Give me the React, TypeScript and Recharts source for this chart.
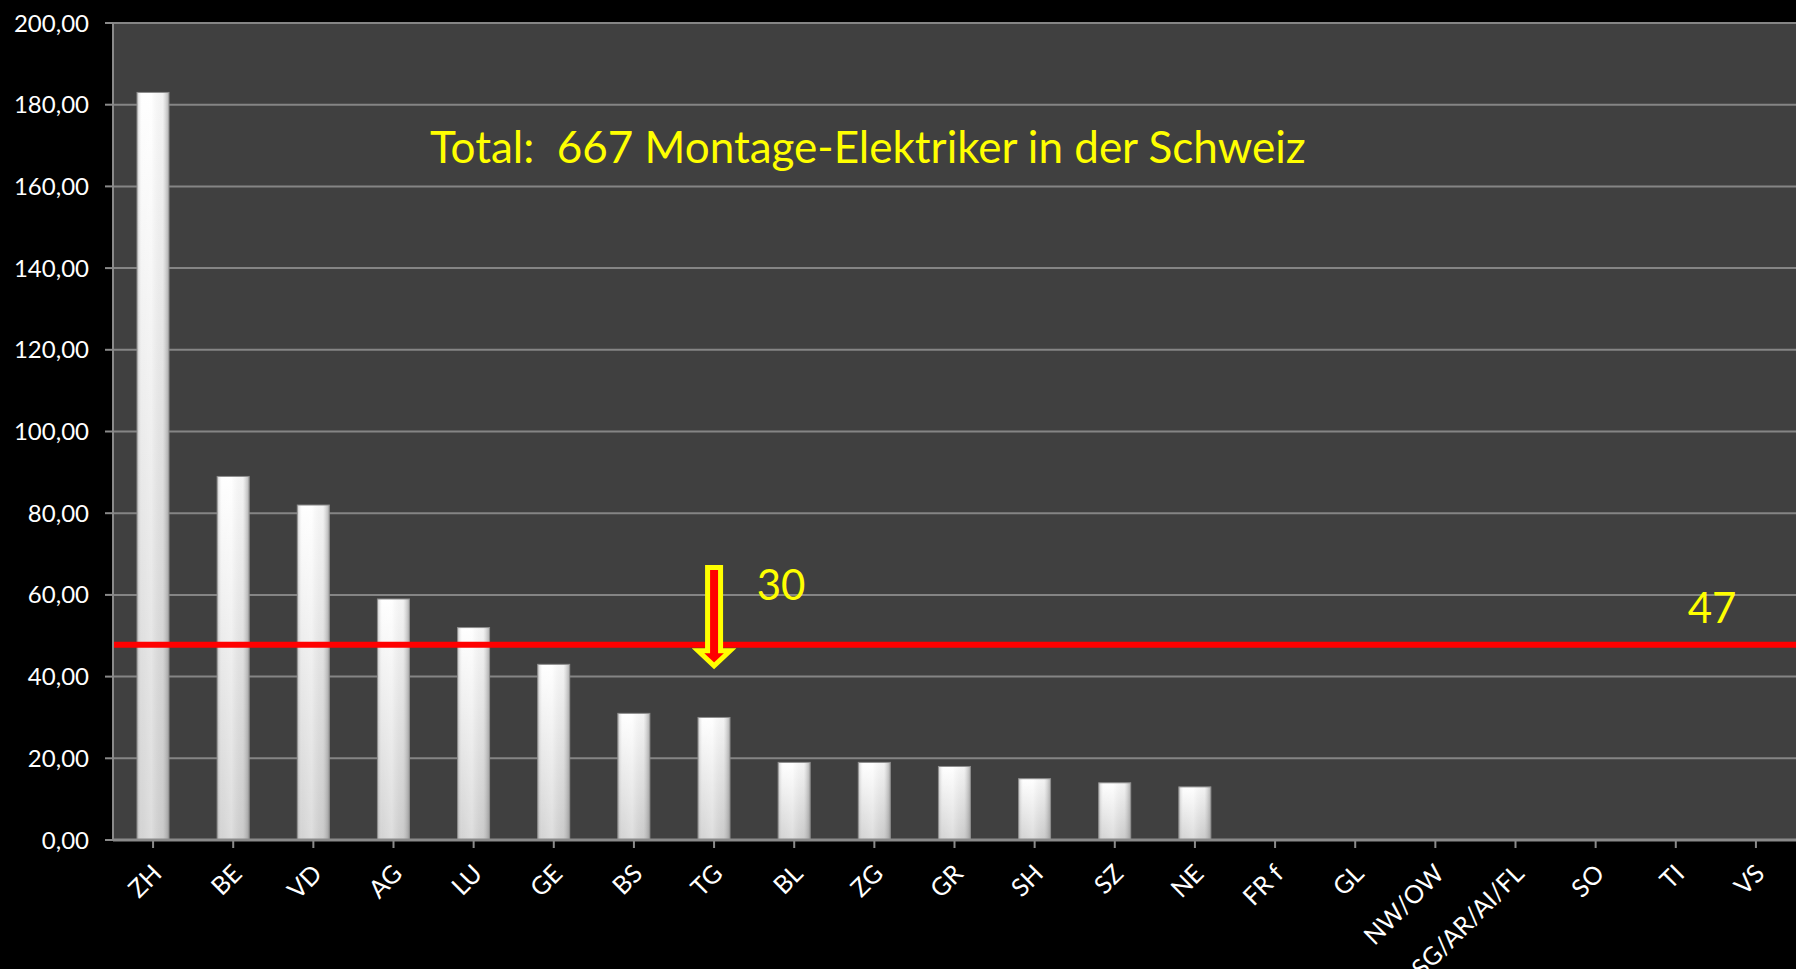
import React from 'react';
import { BarChart, Bar, XAxis, YAxis, CartesianGrid, ReferenceLine } from 'recharts';

const cantons = ['ZH', 'BE', 'VD', 'AG', 'LU', 'GE', 'BS', 'TG', 'BL', 'ZG', 'GR', 'SH', 'SZ', 'NE', 'FR f', 'GL', 'NW/OW', 'SG/AR/AI/FL', 'SO', 'TI', 'VS'];
const electricians: (number | null)[] = [183, 89, 82, 59, 52, 43, 31, 30, 19, 19, 18, 15, 14, 13, null, null, null, null, null, null, null];
const yTicks = [0, 20, 40, 60, 80, 100, 120, 140, 160, 180, 200];

const averageLine = 47.8;
const averageLabel = '47';
const arrowCanton = 'TG';
const arrowFrom = 67.3;
const arrowTo = 41.9;
const arrowLabel = '30';
const title = 'Total:  667 Montage-Elektriker in der Schweiz';

const data = cantons.map((name, i) => ({ name, value: electricians[i] }));

const FONT = "Lato, 'Open Sans', sans-serif";

const fmt = (v: number) => v.toFixed(2).replace('.', ',');

const BarShape = (props: any) => {
  const { x, y, width, height } = props;
  if (!height || height <= 0) return null;
  return (
    <g>
      <rect x={x} y={y} width={width} height={height} fill="url(#barVert)" />
      <rect x={x} y={y} width={width} height={height} fill="url(#barHorz)" stroke="#8c8c8c" strokeWidth={1} />
    </g>
  );
};

const XTick = (props: any) => {
  const { x, y, payload } = props;
  return (
    <g transform={`translate(${x + 4},${y + 19})`}>
      <text x={0} y={0} textAnchor="end" fill="#ffffff" fontSize={25} fontFamily={FONT} transform="rotate(-45)" dy="0.35em">
        {payload.value}
      </text>
    </g>
  );
};

const ArrowShape = (props: any) => {
  const { x1, y1, y2 } = props;
  const cx = x1;
  const top = y1 + 2.5;
  const tip = y2 - 3;
  const headY = y2 - 18;
  const pts = [
    [cx - 6.5, top], [cx + 6.5, top], [cx + 6.5, headY], [cx + 16, headY],
    [cx, tip], [cx - 16, headY], [cx - 6.5, headY],
  ].map((p) => p.join(',')).join(' ');
  return (
    <g>
      <polygon points={pts} fill="#ff0000" stroke="#ffff00" strokeWidth={5} strokeLinejoin="miter" />
      <text x={cx + 67} y={y1 + 35} textAnchor="middle" fill="#ffff00" fontSize={42} fontFamily={FONT}>
        {arrowLabel}
      </text>
    </g>
  );
};

const AvgLabel = (props: any) => {
  const { viewBox } = props;
  return (
    <text x={viewBox.x + viewBox.width - 84} y={viewBox.y - 22} textAnchor="middle" fill="#ffff00" fontSize={42} fontFamily={FONT}>
      {averageLabel}
    </text>
  );
};

export default function App() {
  return (
    <div style={{ position: 'absolute', left: 0, top: 0, width: 1796, height: 969, background: '#000000', overflow: 'hidden' }}>
      <BarChart width={1796} height={969} data={data} margin={{ top: 23, right: 0, left: 0, bottom: 0 }} barSize={32}>
        <defs>
          <linearGradient id="barVert" x1="0" y1="0" x2="0" y2="1">
            <stop offset="0%" stopColor="#ffffff" />
            <stop offset="100%" stopColor="#cfcfcf" />
          </linearGradient>
          <linearGradient id="barHorz" x1="0" y1="0" x2="1" y2="0">
            <stop offset="0%" stopColor="#9a9a9a" stopOpacity={0.55} />
            <stop offset="15%" stopColor="#ffffff" stopOpacity={0.1} />
            <stop offset="45%" stopColor="#ffffff" stopOpacity={0.3} />
            <stop offset="80%" stopColor="#b0b0b0" stopOpacity={0.15} />
            <stop offset="100%" stopColor="#7a7a7a" stopOpacity={0.6} />
          </linearGradient>
        </defs>
        <CartesianGrid vertical={false} stroke="#858585" strokeWidth={2} fill="#404040" fillOpacity={1} />
        <XAxis
          dataKey="name"
          interval={0}
          height={129}
          tick={<XTick />}
          axisLine={{ stroke: '#8a8a8a', strokeWidth: 3 }}
          tickLine={{ stroke: '#8a8a8a', strokeWidth: 2 }}
          tickSize={8}
        />
        <YAxis
          width={113}
          domain={[0, 200]}
          ticks={yTicks}
          tickFormatter={fmt}
          tick={{ fill: '#ffffff', fontSize: 24, fontFamily: FONT }}
          axisLine={{ stroke: '#8a8a8a', strokeWidth: 2 }}
          tickLine={{ stroke: '#8a8a8a', strokeWidth: 2 }}
          tickSize={8}
          tickMargin={16}
        />
        <Bar dataKey="value" shape={<BarShape />} isAnimationActive={false} />
        <ReferenceLine y={averageLine} stroke="#ff0000" strokeWidth={6} label={<AvgLabel />} />
        <ReferenceLine
          segment={[{ x: arrowCanton, y: arrowFrom }, { x: arrowCanton, y: arrowTo }]}
          shape={<ArrowShape />}
        />
      </BarChart>
      <svg width={1796} height={969} style={{ position: 'absolute', left: 0, top: 0, pointerEvents: 'none' }}>
        <text x={430} y={163} fill="#ffff00" fontSize={44} fontFamily={FONT} style={{ whiteSpace: 'pre' }}>
          {title}
        </text>
      </svg>
    </div>
  );
}
